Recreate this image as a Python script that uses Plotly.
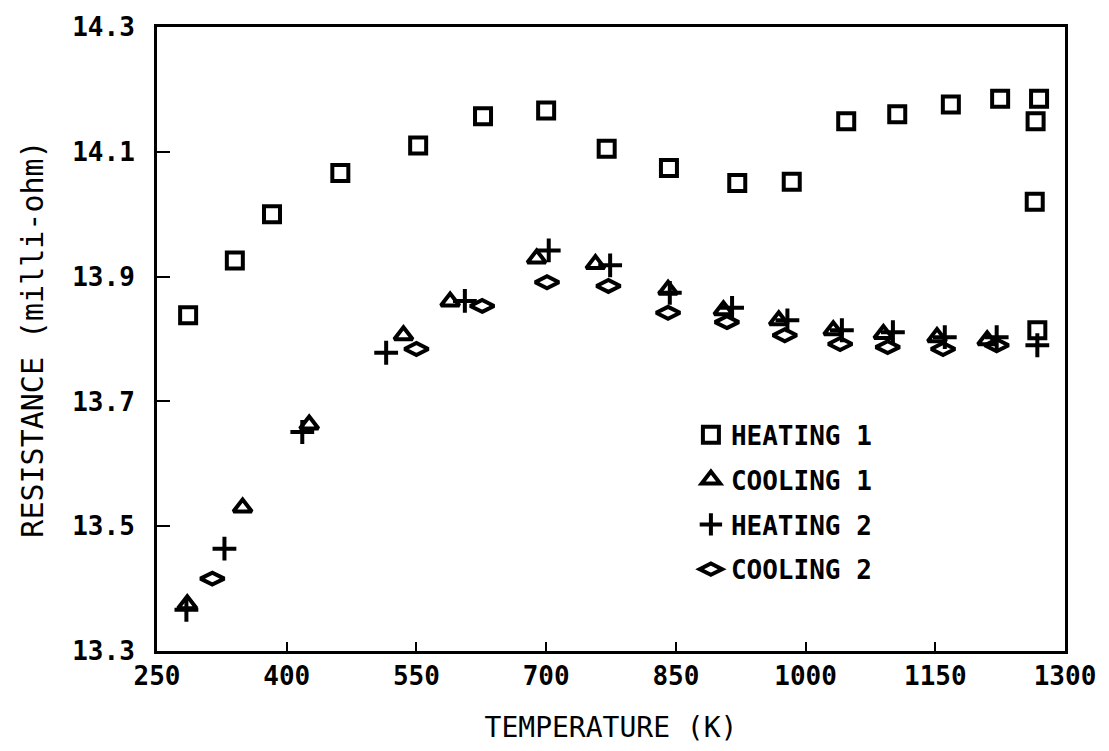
import plotly.graph_objects as go

# Resistance vs. temperature for two heating/cooling cycles
heating1_T = [286, 340, 383, 462, 552, 627, 700, 770, 842, 921, 984, 1047, 1106, 1168, 1225, 1270, 1266, 1265, 1268]
heating1_R = [13.838, 13.926, 14.000, 14.066, 14.110, 14.157, 14.166, 14.105, 14.074, 14.050, 14.052,
              14.149, 14.160, 14.176, 14.185, 14.185, 14.149, 14.020, 13.814]

cooling1_T = [1210, 1152, 1090, 1032, 969, 905, 841, 757, 689, 589, 535, 426, 349, 285]
cooling1_R = [13.798, 13.803, 13.808, 13.814, 13.830, 13.846, 13.879, 13.920, 13.929, 13.860, 13.806,
              13.663, 13.530, 13.375]

heating2_T = [284, 328, 418, 515, 606, 703, 774, 843, 915, 979, 1042, 1101, 1161, 1221, 1268]
heating2_R = [13.366, 13.464, 13.651, 13.778, 13.861, 13.942, 13.918, 13.874, 13.850, 13.830, 13.814,
              13.811, 13.803, 13.803, 13.790]

cooling2_T = [1221, 1159, 1095, 1040, 976, 909, 841, 772, 701, 626, 550, 314]
cooling2_R = [13.790, 13.784, 13.787, 13.792, 13.806, 13.827, 13.842, 13.885, 13.891, 13.853, 13.784, 13.416]

x_ticks = [250, 400, 550, 700, 850, 1000, 1150, 1300]
y_ticks = [13.3, 13.5, 13.7, 13.9, 14.1, 14.3]

MONO = "DejaVu Sans Mono"
INK = "black"
CLEAR = "rgba(0,0,0,0)"

# name, x, y, symbol, size
series = [
    ("HEATING 1", heating1_T, heating1_R, "square", 16),
    ("COOLING 1", cooling1_T, cooling1_R, "triangle-up", 16),
    ("HEATING 2", heating2_T, heating2_R, "cross-thin", 17),
    ("COOLING 2", cooling2_T, cooling2_R, "diamond-wide", 17),
]

fig = go.Figure()
for i, (name, xs, ys, sym, size) in enumerate(series):
    fig.add_trace(go.Scatter(
        x=xs, y=ys, mode="markers", name=name, legendgroup=f"g{i}",
        marker=dict(symbol=sym, size=size, color=CLEAR, line=dict(color=INK, width=4)),
    ))

fig.update_layout(
    width=1109, height=751,
    margin=dict(l=157, r=44, t=19, b=96),
    paper_bgcolor="white", plot_bgcolor="white",
    font=dict(family=MONO, color=INK, size=22),
    showlegend=True,
    legend=dict(
        x=0.588, y=0.384, xanchor="left", yanchor="top",
        bgcolor=CLEAR, borderwidth=0,
        font=dict(family=MONO, size=26, color=INK, weight="bold"),
        traceorder="grouped", tracegroupgap=8, itemsizing="trace",
    ),
)

fig.update_xaxes(
    range=[250, 1300], tickvals=x_ticks, ticktext=[str(v) for v in x_ticks],
    ticks="inside", ticklen=9, tickwidth=2, tickcolor=INK,
    showline=True, linewidth=3, linecolor=INK, mirror=True,
    showgrid=False, zeroline=False,
    tickfont=dict(family=MONO, size=26, color=INK, weight="bold"),
    title=dict(text="TEMPERATURE (K)", font=dict(family=MONO, size=28, color=INK), standoff=28),
)
fig.update_yaxes(
    range=[13.3, 14.3], tickvals=y_ticks, ticktext=[f"{v:.1f}" for v in y_ticks],
    ticks="inside", ticklen=13, tickwidth=2, tickcolor=INK,
    showline=True, linewidth=3, linecolor=INK, mirror=True,
    showgrid=False, zeroline=False, ticklabelstandoff=14,
    tickfont=dict(family=MONO, size=26, color=INK, weight="bold"),
    title=dict(text="RESISTANCE (milli-ohm)", font=dict(family=MONO, size=30, color=INK), standoff=20),
)

fig.write_html("out.html")
